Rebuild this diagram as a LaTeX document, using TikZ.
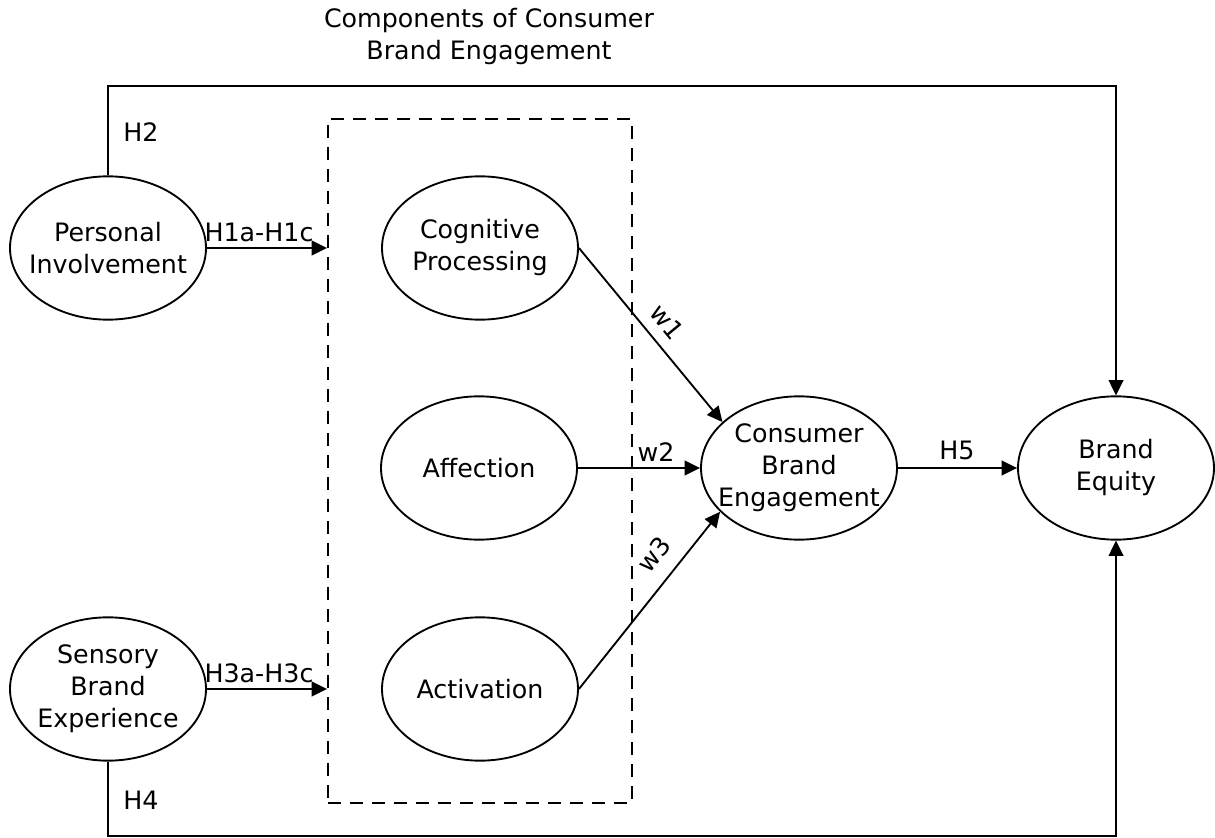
\documentclass[tikz,border=0pt]{standalone}
\usepackage{fontspec}
\setmainfont{DejaVu Sans}
\usetikzlibrary{shapes.geometric,arrows.meta}
\begin{document}
\begin{tikzpicture}[x=0.75pt,y=-0.75pt,
  font=\fontsize{19}{24}\selectfont,
  line width=1.4pt,
  elli/.style={ellipse, draw, minimum width=147pt, minimum height=107.5pt, inner sep=0pt},
  txt/.style={align=center, inner sep=0pt},
  arr/.style={-{Triangle[length=11.5pt,width=11pt]}},
  dashbox/.style={draw, dash pattern=on 9.75pt off 6.75pt, minimum width=228pt, minimum height=513pt, inner sep=0pt}]
\useasboundingbox (0,0) rectangle (1215,838);
% title
\node[txt] (title) at (489,37) {Components of Consumer\\Brand Engagement};
% dashed group
\node[dashbox] (box) at (480,461) {};
% ellipses
\node[elli] (pi)  at (108,248) {};
\node[txt] (pit) at (pi) {Personal\\Involvement};
\node[elli] (sbe) at (108,689) {};
\node[txt] (sbet) at (sbe) {Sensory\\Brand\\Experience};
\node[elli] (cog) at (480,248) {};
\node[txt] (cogt) at (cog) {Cognitive\\Processing};
\node[elli] (aff) at (479,468) {};
\node[txt] (afft) at (aff) {Affection};
\node[elli] (act) at (480,689) {};
\node[txt] (actt) at (act) {Activation};
\node[elli] (cbe) at (799,468) {};
\node[txt] (cbet) at (cbe) {Consumer\\Brand\\Engagement};
\node[elli] (be)  at (1116,468) {};
\node[txt] (bet) at (be) {Brand\\Equity};
% helper coordinates
\coordinate (topy) at (0,86);
\coordinate (boty) at (0,836);
% connectors
\draw[arr] (pi.east) -- (pi.east -| box.west);
\draw[arr] (sbe.east) -- (sbe.east -| box.west);
\draw[arr] (cog.east) -- (cbe.149.5);
\draw[arr] (aff.east) -- (cbe.west);
\draw[arr] (act.east) -- (cbe.209);
\draw[arr] (cbe.east) -- (be.west);
\draw[arr] (pi.north) -- (pi.north |- topy) -| (be.north);
\draw[arr] (sbe.south) -- (sbe.south |- boty) -| (be.south);
% labels
\node[txt] (h2) at (141,132) {H2};
\node[txt] (h1) at (259,232) {H1a-H1c};
\node[txt] (h3) at (259,673) {H3a-H3c};
\node[txt] (h4) at (141,800) {H4};
\node[txt] (h5) at (957,450) {H5};
\node[txt] (w2) at (656,452) {w2};
\node[txt, rotate=-50.6] (w1) at (667,322) {w1};
\node[txt, rotate=51] (w3) at (654,554) {w3};
\end{tikzpicture}
\end{document}
